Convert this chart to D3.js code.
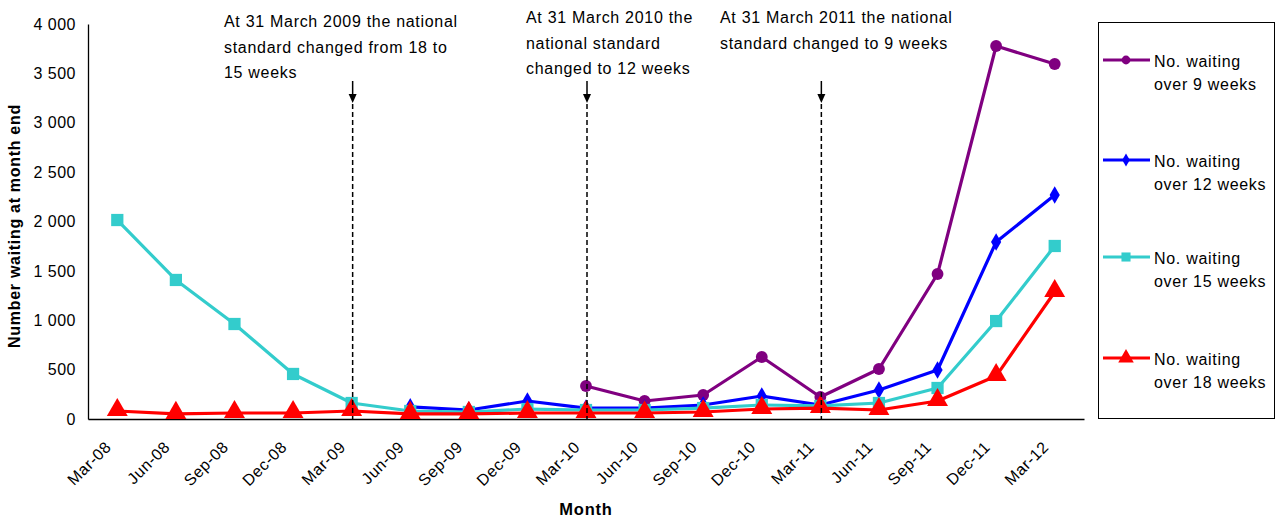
<!DOCTYPE html>
<html><head><meta charset="utf-8">
<script src="https://cdn.jsdelivr.net/npm/d3@7"></script>
<style>body{margin:0;background:#fff;} text{font-family:"Liberation Sans",Arial,sans-serif;}</style>
</head><body>
<svg id="chart" width="1279" height="520"></svg>
<script>
const categories = ["Mar-08","Jun-08","Sep-08","Dec-08","Mar-09","Jun-09","Sep-09","Dec-09","Mar-10","Jun-10","Sep-10","Dec-10","Mar-11","Jun-11","Sep-11","Dec-11","Mar-12"];
const over9 = [null,null,null,null,null,null,null,null,334,182,243,628,223,506,1468,3777,3595];
const over12 = [null,null,null,null,null,122,91,182,111,111,142,233,142,294,496,1792,2268];
const over15 = [2015,1408,962,456,162,81,71,101,91,91,111,142,132,162,314,992,1752];
const over18 = [81,51,61,61,81,51,51,61,61,61,71,101,111,91,182,435,1286];
const seriesNames = ["No. waiting over 9 weeks","No. waiting over 12 weeks","No. waiting over 15 weeks","No. waiting over 18 weeks"];
const yTicks = [0,500,1000,1500,2000,2500,3000,3500,4000];
const annotations = [
  {cat:"Mar-09", lines:["At 31 March 2009 the national","standard changed from 18 to","15 weeks"]},
  {cat:"Mar-10", lines:["At 31 March 2010 the","national standard","changed to 12 weeks"]},
  {cat:"Mar-11", lines:["At 31 March 2011 the national","standard changed to 9 weeks"]}
];

const svg = d3.select("#chart");
const x = d3.scaleBand().domain(categories).range([88,1084]);
const y = d3.scaleLinear().domain([0,4000]).range([419,24]);
const cx = c => x(c) + x.bandwidth()/2;

// Y axis
const yAxis = svg.append("g").attr("transform","translate(88,0)")
  .call(d3.axisLeft(y).tickValues(yTicks).tickSize(0).tickPadding(12)
    .tickFormat(d => d3.format(",")(d).replace(/,/g," ")));
yAxis.select(".domain").attr("stroke","#000").attr("stroke-width",1.3);
yAxis.selectAll("text").attr("font-size",16).attr("letter-spacing",0.5).attr("fill","#000")
  .attr("font-family","Liberation Sans, Arial, sans-serif");

// X axis
const xAxis = svg.append("g").attr("transform","translate(0,419)")
  .call(d3.axisBottom(x).tickSize(0).tickPadding(0));
xAxis.select(".domain").attr("stroke","#000").attr("stroke-width",1.3);
xAxis.selectAll(".tick text")
  .attr("font-size",16).attr("letter-spacing",0.6).attr("fill","#000")
  .attr("font-family","Liberation Sans, Arial, sans-serif")
  .attr("text-anchor","end").attr("dy",null)
  .attr("transform","translate(-8,26) rotate(-45)")
  .attr("y",0).attr("x",0).attr("dominant-baseline","middle");

// Titles
svg.append("text").attr("x",586).attr("y",509).attr("text-anchor","middle")
  .attr("dominant-baseline","central")
  .attr("font-size",16.5).attr("letter-spacing",0.8).attr("font-weight","bold").text("Month");
svg.append("text").attr("transform","translate(20,226) rotate(-90)").attr("text-anchor","middle")
  .attr("font-size",16).attr("letter-spacing",0.7).attr("font-weight","bold").text("Number waiting at month end");

const colors = ["#800080","#0000FF","#33CCCC","#FF0000"];
const data = [over9, over12, over15, over18];
const shapes = [d3.symbolCircle, d3.symbolDiamond, d3.symbolSquare, d3.symbolTriangle];
const sizes = [110, 90, 150, 190];

const line = d3.line().defined(d => d.v !== null).x(d => cx(d.c)).y(d => y(d.v));
data.forEach((arr, i) => {
  const pts = categories.map((c, j) => ({c, v: arr[j]}));
  svg.append("path").datum(pts).attr("d", line).attr("fill","none")
    .attr("stroke", colors[i]).attr("stroke-width", 3.2).attr("stroke-linejoin","round");
  svg.append("g").selectAll("path").data(pts.filter(d => d.v !== null)).join("path")
    .attr("d", d3.symbol().type(shapes[i]).size(sizes[i]))
    .attr("transform", d => `translate(${cx(d.c)},${y(d.v) + (i===3?-1:0)})`)
    .attr("fill", colors[i]);
});

// Annotations
const annX = {"Mar-09":224, "Mar-10":526, "Mar-11":720};
const annY0 = {"Mar-09":23, "Mar-10":19, "Mar-11":19};
annotations.forEach(a => {
  const xx = cx(a.cat) + 1;
  svg.append("line").attr("x1",xx).attr("x2",xx).attr("y1",104).attr("y2",419)
    .attr("stroke","#000").attr("stroke-width",1.5).attr("stroke-dasharray","5,3");
  svg.append("line").attr("x1",xx).attr("x2",xx).attr("y1",81).attr("y2",96)
    .attr("stroke","#000").attr("stroke-width",1.5);
  svg.append("path").attr("d",`M${xx-4},${94}L${xx+4},${94}L${xx},${103}Z`).attr("fill","#000");
  const t = svg.append("text").attr("font-size",16).attr("letter-spacing",0.7).attr("fill","#000");
  a.lines.forEach((l, k) => {
    t.append("tspan").attr("x", annX[a.cat]).attr("y", annY0[a.cat] + k*25.5)
      .attr("dominant-baseline","middle").text(l);
  });
});

// Legend
svg.append("rect").attr("x",1098.5).attr("y",22.5).attr("width",176).attr("height",396)
  .attr("fill","none").attr("stroke","#000").attr("stroke-width",1);
const legY = [60,160,257,358];
seriesNames.forEach((n, i) => {
  const g = svg.append("g");
  g.append("line").attr("x1",1103).attr("x2",1150).attr("y1",legY[i]).attr("y2",legY[i])
    .attr("stroke",colors[i]).attr("stroke-width",3);
  g.append("path").attr("d", d3.symbol().type(shapes[i]).size(sizes[i]*0.55))
    .attr("transform",`translate(1126,${legY[i]})`).attr("fill",colors[i]);
  const words = n.split(" ");
  const t = g.append("text").attr("font-size",16).attr("letter-spacing",0.7).attr("fill","#000");
  t.append("tspan").attr("x",1154).attr("y",legY[i]+3).attr("dominant-baseline","middle").text(words.slice(0,2).join(" "));
  t.append("tspan").attr("x",1154).attr("y",legY[i]+26).attr("dominant-baseline","middle").text(words.slice(2).join(" "));
});
</script>
</body></html>
